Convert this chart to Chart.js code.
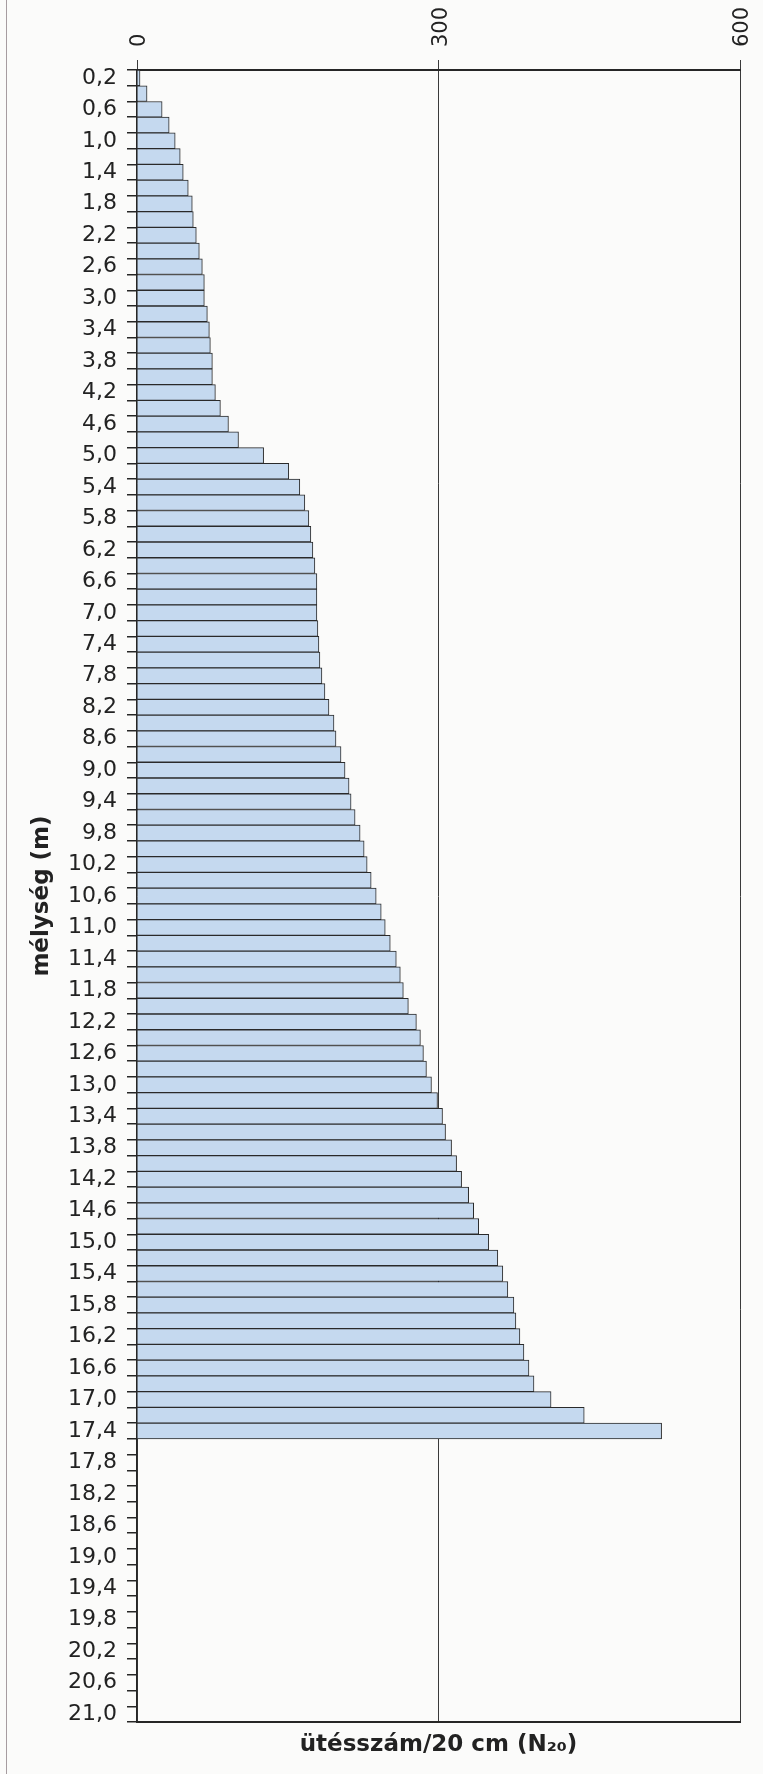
<!DOCTYPE html>
<html>
<head>
<meta charset="utf-8">
<script src="https://cdn.jsdelivr.net/npm/chart.js"></script>
<style>
  body { margin: 0; background: #fbfbfa; }
  #wrap { position: relative; width: 763px; height: 1774px; }
  #frame { position: absolute; left: 6px; top: 0; width: 1px; height: 1774px; background: #a69ca0; }
</style>
</head>
<body>
<div id="wrap">
  <div id="frame"></div>
  <canvas id="penetrationChart"></canvas>
</div>
<script>
/* Data */
// depth categories (m), 0,2 .. 21,0
const depths = [
  '0,2', '0,4', '0,6', '0,8', '1,0', '1,2', '1,4', '1,6', '1,8', '2,0',
  '2,2', '2,4', '2,6', '2,8', '3,0', '3,2', '3,4', '3,6', '3,8', '4,0',
  '4,2', '4,4', '4,6', '4,8', '5,0', '5,2', '5,4', '5,6', '5,8', '6,0',
  '6,2', '6,4', '6,6', '6,8', '7,0', '7,2', '7,4', '7,6', '7,8', '8,0',
  '8,2', '8,4', '8,6', '8,8', '9,0', '9,2', '9,4', '9,6', '9,8', '10,0',
  '10,2', '10,4', '10,6', '10,8', '11,0', '11,2', '11,4', '11,6', '11,8', '12,0',
  '12,2', '12,4', '12,6', '12,8', '13,0', '13,2', '13,4', '13,6', '13,8', '14,0',
  '14,2', '14,4', '14,6', '14,8', '15,0', '15,2', '15,4', '15,6', '15,8', '16,0',
  '16,2', '16,4', '16,6', '16,8', '17,0', '17,2', '17,4', '17,6', '17,8', '18,0',
  '18,2', '18,4', '18,6', '18,8', '19,0', '19,2', '19,4', '19,6', '19,8', '20,0',
  '20,2', '20,4', '20,6', '20,8', '21,0'
];

// blow count per 20 cm (N20), measured down to 17,4 m
const blows = [
  3, 10, 25, 32, 38, 43, 46, 51, 55, 56,
  59, 62, 65, 67, 67, 70, 72, 73, 75, 75,
  78, 83, 91, 101, 126, 151, 162, 167, 171, 173,
  175, 177, 179, 179, 179, 180, 181, 182, 184, 187,
  191, 196, 198, 203, 207, 211, 213, 217, 222, 226,
  229, 233, 238, 243, 247, 252, 258, 262, 265, 270,
  278, 282, 285, 288, 293, 299, 304, 307, 313, 318,
  323, 330, 335, 340, 350, 359, 364, 369, 375, 377,
  381, 385, 390, 395, 412, 445, 522
];

// x axis ticks
const blowTicks = [0, 300, 600];

const yTitle = 'mélység (m)';
const xTitle = 'ütésszám/20 cm (N\u2082\u2080)';

const axisColor = '#262626';

// Get the canvas
const ctx = document.getElementById('penetrationChart').getContext('2d');

const penetrationChart = new Chart(ctx, {
  type: 'bar',
  data: {
    labels: depths,
    datasets: [{
      data: blows,
      backgroundColor: '#c5d9ef',
      borderColor: '#2a2a2a',
      borderWidth: 1,
      barPercentage: 1,
      categoryPercentage: 1
    }]
  },
  options: {
    indexAxis: 'y',
    responsive: true,
    maintainAspectRatio: false,
    animation: false,
    layout: { padding: { top: 0, right: 23, bottom: 0, left: 0 } },
    plugins: {
      legend: { display: false },
      tooltip: { enabled: false }
    },
    scales: {
      x: {
        type: 'linear',
        position: 'top',
        min: 0,
        max: 600,
        afterBuildTicks: (scale) => {
          scale.ticks = blowTicks.map(v => ({ value: v }));
        },
        afterFit: (scale) => { scale.height = 70; },
        ticks: {
          minRotation: 90,
          maxRotation: 90,
          padding: 13,
          labelOffset: 24,
          color: '#222',
          font: { family: 'DejaVu Sans', size: 21, lineHeight: 1 }
        },
        grid: {
          color: '#3a3a3a',
          lineWidth: 1,
          tickLength: 10,
          drawOnChartArea: true
        },
        border: { display: true, color: axisColor, width: 2 }
      },
      x2: {
        type: 'linear',
        position: 'bottom',
        min: 0,
        max: 600,
        afterFit: (scale) => { scale.height = 52; },
        ticks: { display: false },
        grid: { display: false },
        border: { display: true, color: axisColor, width: 2 },
        title: {
          display: true,
          text: xTitle,
          color: '#222',
          padding: { top: 0, bottom: 15 },
          font: { family: 'DejaVu Sans', size: 23, weight: 'bold' }
        }
      },
      y: {
        type: 'category',
        position: 'left',
        offset: true,
        afterFit: (scale) => { scale.width = 137; },
        ticks: {
          autoSkip: false,
          padding: 10,
          color: '#222',
          font: { family: 'DejaVu Sans', size: 22 },
          callback: function (value, index) {
            return index % 2 === 0 ? this.getLabelForValue(value) : '';
          }
        },
        grid: {
          offset: true,
          drawOnChartArea: false,
          drawTicks: true,
          tickLength: 10,
          color: axisColor,
          lineWidth: 1.5
        },
        border: { display: true, color: axisColor, width: 1.5 },
        title: {
          display: true,
          text: yTitle,
          color: '#222',
          padding: { top: 28, bottom: 0 },
          font: { family: 'DejaVu Sans', size: 23, weight: 'bold' }
        }
      }
    }
  }
});
</script>
</body>
</html>
